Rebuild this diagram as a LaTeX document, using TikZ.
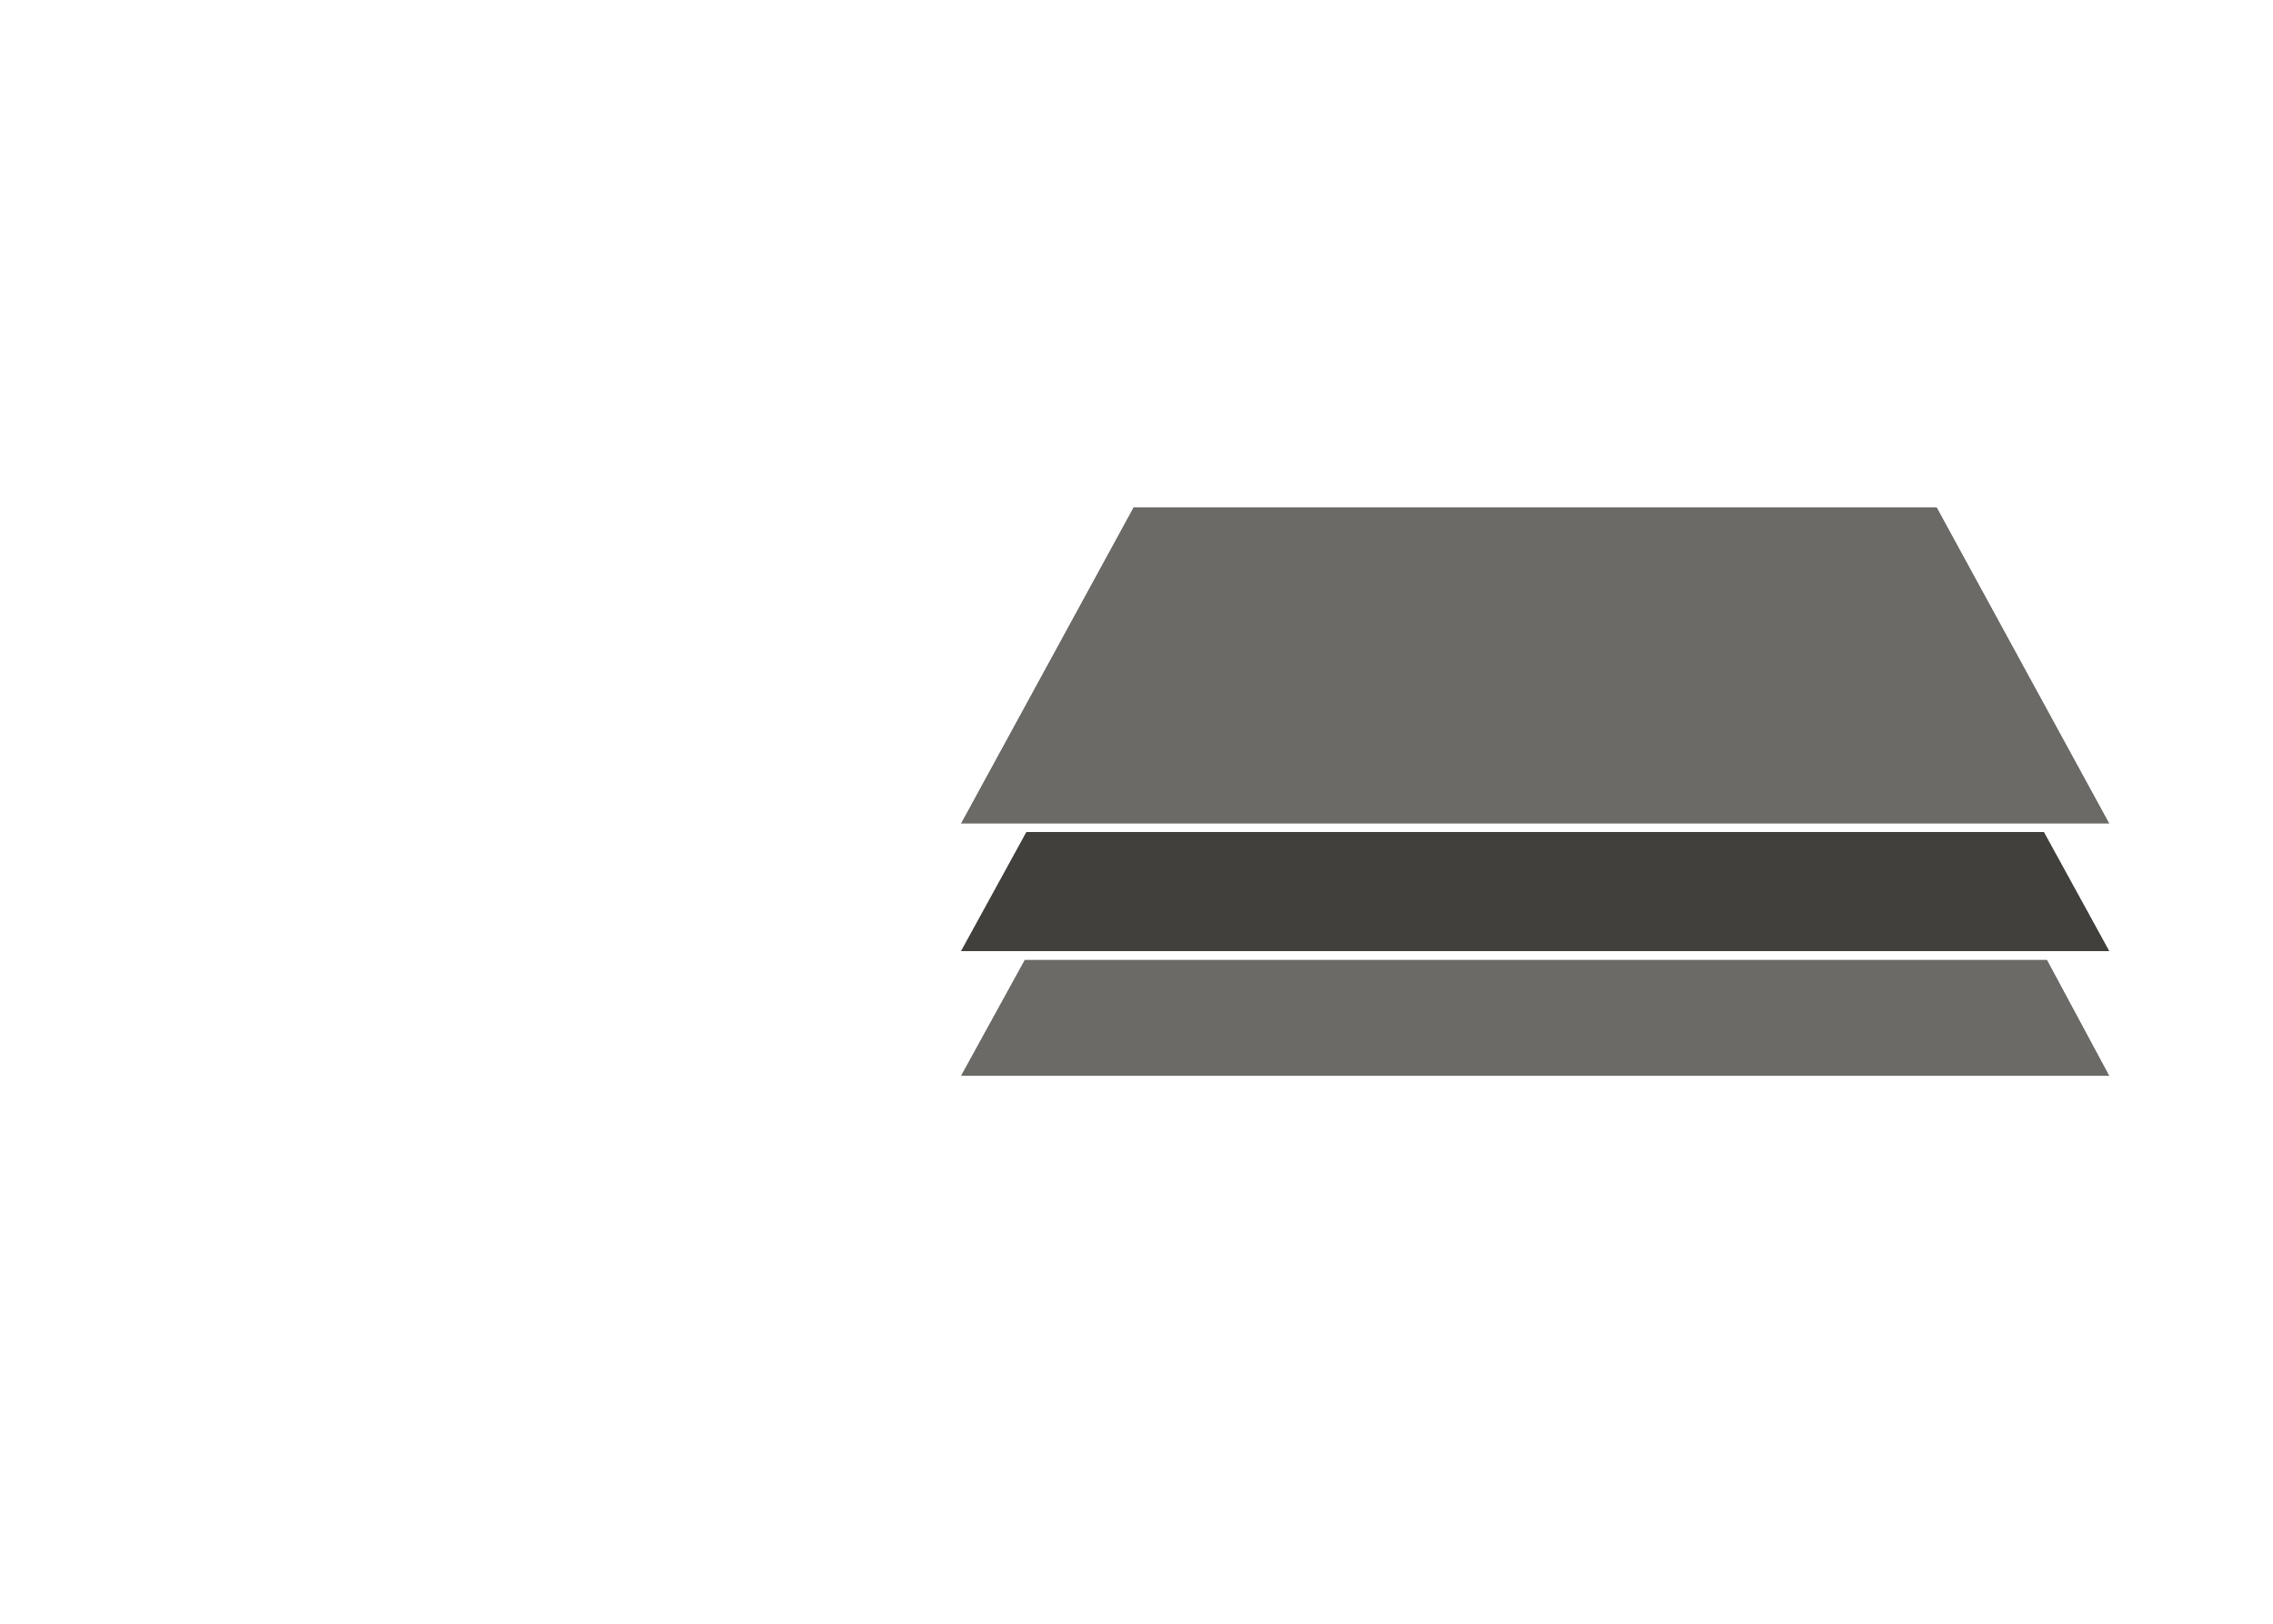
\documentclass[tikz,border=0pt]{standalone}
\definecolor{lightgrey}{HTML}{6B6A67}
\definecolor{darkgrey}{HTML}{42403D}
\begin{document}
\begin{tikzpicture}[x=0.01cm,y=-0.01cm,layer/.style={draw=none}]
\useasboundingbox (0,0) rectangle (1568,1120);
\fill[lightgrey,layer] (782,350) -- (1336,350) -- (1455,568) -- (663,568) -- cycle;
\fill[darkgrey,layer] (708,574) -- (1410,574) -- (1455,656) -- (663,656) -- cycle;
\fill[lightgrey,layer] (707,662) -- (1412,662) -- (1455,742) -- (663,742) -- cycle;
\end{tikzpicture}
\end{document}
